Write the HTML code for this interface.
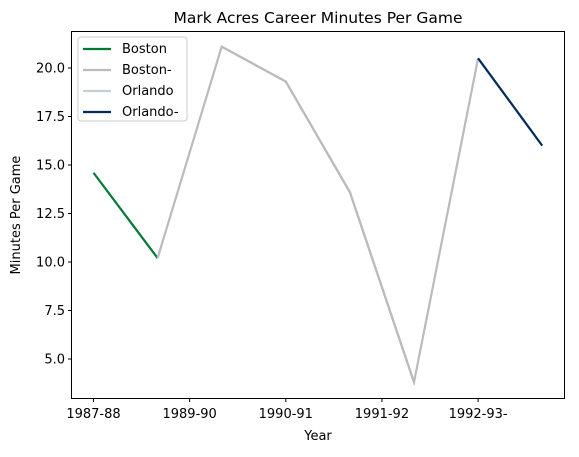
<!DOCTYPE html>
<html><head><meta charset="utf-8"><style>
body{margin:0;background:#fff;font-family:"DejaVu Sans","Liberation Sans",sans-serif}
text{font-family:"DejaVu Sans","Liberation Sans",sans-serif;fill:#000}
</style></head><body>
<svg id="chart" width="579" height="453" xmlns="http://www.w3.org/2000/svg">
<text x="318" y="23" font-size="15.5" text-anchor="middle">Mark Acres Career Minutes Per Game</text>
<text x="318" y="440" font-size="13" text-anchor="middle">Year</text>
<text transform="translate(20,215) rotate(-90)" font-size="13" text-anchor="middle">Minutes Per Game</text>
<g id="series"></g>
<rect x="71.5" y="31.5" width="493" height="367" fill="none" stroke="#000" stroke-width="1"/>
<g id="axes"></g>
<g>
<rect x="78" y="37" width="109" height="84" rx="3" fill="#fff" stroke="#ccc"/>
<line x1="83" y1="49" x2="111" y2="49" stroke="#007A33" stroke-width="2.2"/><text x="122" y="53" font-size="13">Boston</text>
<line x1="83" y1="70" x2="111" y2="70" stroke="#BBBBBB" stroke-width="2.2"/><text x="122" y="74" font-size="13">Boston-</text>
<line x1="83" y1="91" x2="111" y2="91" stroke="#C4CED4" stroke-width="2.2"/><text x="122" y="95" font-size="13">Orlando</text>
<line x1="83" y1="112" x2="111" y2="112" stroke="#002B5C" stroke-width="2.2"/><text x="122" y="116" font-size="13">Orlando-</text>
</g>
</svg>
<script>
const values = [14.6, 10.2, 21.1, 19.3, 13.6, 3.8, 20.5, 16.0];
const bostonIdx = [0, 1];
const bostonMinusIdx = [1, 2, 3, 4, 5, 6];
const orlandoIdx = [2, 3, 4, 5];
const orlandoMinusIdx = [6, 7];
const xTickPos = [0, 1.5, 3, 4.5, 6];
const xTickLabels = ["1987-88", "1989-90", "1990-91", "1991-92", "1992-93-"];
const yTicks = [5.0, 7.5, 10.0, 12.5, 15.0, 17.5, 20.0];
const NS = "http://www.w3.org/2000/svg";
const x = i => 93.5 + i * 64.1;
const y = v => 68 + (20 - v) * 19.4;
const sg = document.getElementById('series');
function drawLine(idx, color, name) {
  const p = document.createElementNS(NS, 'polyline');
  p.setAttribute('points', idx.map(i => x(i) + ',' + y(values[i])).join(' '));
  p.setAttribute('fill', 'none');
  p.setAttribute('stroke', color);
  p.setAttribute('stroke-width', '2.2');
  
  
  sg.appendChild(p);
}
drawLine(bostonIdx, '#007A33', 'boston-line');
drawLine(bostonMinusIdx, '#BBBBBB', 'boston-minus-line');
drawLine(orlandoIdx, '#BBBBBB', 'orlando-line');
drawLine(orlandoMinusIdx, '#002B5C', 'orlando-minus-line');
const ag = document.getElementById('axes');
xTickPos.forEach((t, k) => {
  const l = document.createElementNS(NS, 'line');
  l.setAttribute('x1', x(t)); l.setAttribute('x2', x(t));
  l.setAttribute('y1', 398.5); l.setAttribute('y2', 402);
  l.setAttribute('stroke', '#000');
  
  
  ag.appendChild(l);
  const tx = document.createElementNS(NS, 'text');
  tx.setAttribute('x', x(t)); tx.setAttribute('y', 418);
  tx.setAttribute('font-size', '13'); tx.setAttribute('text-anchor', 'middle');
  tx.textContent = xTickLabels[k];
  
  
  ag.appendChild(tx);
});
yTicks.forEach(v => {
  const l = document.createElementNS(NS, 'line');
  l.setAttribute('x1', 68); l.setAttribute('x2', 71.5);
  l.setAttribute('y1', y(v)); l.setAttribute('y2', y(v));
  l.setAttribute('stroke', '#000');
  
  
  ag.appendChild(l);
  const tx = document.createElementNS(NS, 'text');
  tx.setAttribute('x', 65); tx.setAttribute('y', y(v) + 4.5);
  tx.setAttribute('font-size', '13'); tx.setAttribute('text-anchor', 'end');
  tx.textContent = v.toFixed(1);
  
  
  ag.appendChild(tx);
});
</script>
</body></html>
